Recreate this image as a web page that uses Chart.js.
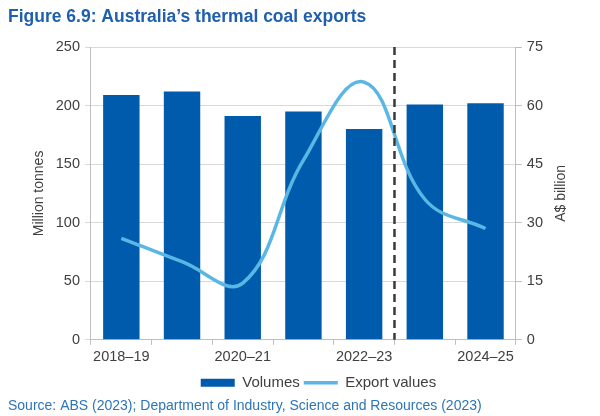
<!DOCTYPE html>
<html>
<head>
<meta charset="utf-8">
<script src="https://cdn.jsdelivr.net/npm/chart.js@4.4.1/dist/chart.umd.min.js"></script>
<style>
  body { margin: 0; background: #fff; }
  #wrap { width: 600px; height: 416px; }
</style>
</head>
<body>
<div id="wrap"><canvas id="myChart"></canvas></div>
<script>
//Chart data
const years = ["2018–19", "2019–20", "2020–21", "2021–22", "2022–23", "2023–24", "2024–25"];
const volumes = [209, 212, 191, 195, 180, 201, 202];
const exportValues = [26, 20, 14.5, 46, 66, 36, 28.5];
const lastActualIndex = 4; // dashed line sits after 2022–23
const leftTicks = [0, 50, 100, 150, 200, 250];
const rightTicks = [0, 15, 30, 45, 60, 75];

const font = "'Liberation Sans', Arial, sans-serif";
const textGrey = "#404040";

//dashed divider between actuals and forecasts
const dividerPlugin = {
  id: "divider",
  afterDatasetsDraw(chart) {
    const x = chart.scales.x.getPixelForValue(lastActualIndex + 0.5);
    const area = chart.chartArea;
    const ctx = chart.ctx;
    ctx.save();
    ctx.strokeStyle = "#3a3a3a";
    ctx.lineWidth = 2.5;
    ctx.setLineDash([8, 5]);
    ctx.beginPath();
    ctx.moveTo(x, area.top);
    ctx.lineTo(x, area.bottom);
    ctx.stroke();
    ctx.restore();
  },
};

//right axis title reads bottom-to-top, and legend sits a bit right of centre
const extrasPlugin = {
  id: "extras",
  afterLayout(chart) {
    const lg = chart.legend;
    const shift = (chart.chartArea.left + chart.chartArea.right) / 2 + 15 - (lg.left + lg.right) / 2;
    lg.left += shift;
    lg.right += shift;
    lg.top += 3;
    lg.bottom += 3;
  },
  afterDraw(chart) {
    const ax = chart.scales.y1;
    const area = chart.chartArea;
    const ctx = chart.ctx;
    ctx.save();
    ctx.translate(ax.right + 13, (area.top + area.bottom) / 2);
    ctx.rotate(-Math.PI / 2);
    ctx.textAlign = "center";
    ctx.textBaseline = "middle";
    ctx.fillStyle = textGrey;
    ctx.font = "14px " + font;
    ctx.fillText("A$ billion", 0, 0);
    ctx.restore();
  },
};

var ctx = document.getElementById("myChart").getContext("2d");
var chart = new Chart(ctx, {
  type: "bar",
  data: {
    labels: years,
    datasets: [
      {
        label: "Volumes",
        data: volumes,
        backgroundColor: "#005BAC",
        borderWidth: 0,
        yAxisID: "y",
        order: 1,
        pointStyle: "rect",
        categoryPercentage: 1,
        barPercentage: 0.6,
      },
      {
        type: "line",
        label: "Export values",
        data: exportValues,
        borderColor: "#5AB6E2",
        backgroundColor: "#5AB6E2",
        borderWidth: 3.5,
        pointRadius: 0,
        pointStyle: "line",
        tension: 0.4,
        yAxisID: "y1",
        order: 0,
      },
    ],
  },
  options: {
    responsive: true,
    maintainAspectRatio: false,
    animation: false,
    layout: { padding: { left: 8, right: 52, top: 0, bottom: 0 } },
    plugins: {
      tooltip: { enabled: false },
      title: {
        display: true,
        text: "Figure 6.9: Australia’s thermal coal exports",
        align: "start",
        color: "#1F5FAF",
        font: { family: font, size: 17.5, weight: "bold" },
        padding: { top: 7, bottom: 19 },
      },
      subtitle: {
        display: true,
        position: "bottom",
        align: "start",
        text: "Source: ABS (2023); Department of Industry, Science and Resources (2023)",
        color: "#2E75B6",
        font: { family: font, size: 14 },
        padding: { top: 1, bottom: 1 },
      },
      legend: {
        position: "bottom",
        labels: {
          usePointStyle: true,
          pointStyleWidth: 34,
          boxHeight: 8,
          padding: 4,
          color: textGrey,
          font: { family: font, size: 15 },
          sort: (a, b) => a.datasetIndex - b.datasetIndex,
        },
      },
    },
    scales: {
      x: {
        grid: {
          offset: true,
          drawOnChartArea: false,
          tickLength: 5,
          color: "#bfbfbf",
        },
        border: { color: "#bfbfbf" },
        ticks: {
          autoSkip: false,
          maxRotation: 0,
          padding: 3,
          color: textGrey,
          font: { family: font, size: 14.5 },
          callback: (val, i) => (i % 2 === 0 ? years[i] : ""),
        },
      },
      y: {
        position: "left",
        min: 0,
        max: 250,
        afterBuildTicks: (axis) => {
          axis.ticks = leftTicks.map((v) => ({ value: v }));
        },
        grid: { color: "#d9d9d9", tickLength: 6 },
        border: { color: "#bfbfbf" },
        ticks: {
          padding: 5,
          color: textGrey,
          font: { family: font, size: 14.5 },
        },
        title: {
          display: true,
          text: "Million tonnes",
          color: textGrey,
          font: { family: font, size: 14 },
          padding: { top: 23, bottom: 3 },
        },
      },
      y1: {
        position: "right",
        min: 0,
        max: 75,
        afterBuildTicks: (axis) => {
          axis.ticks = rightTicks.map((v) => ({ value: v }));
        },
        grid: { drawOnChartArea: false, color: "#bfbfbf", tickLength: 6 },
        border: { color: "#bfbfbf" },
        ticks: {
          padding: 5,
          color: textGrey,
          font: { family: font, size: 14.5 },
        },
      },
    },
  },
  plugins: [dividerPlugin, extrasPlugin],
});
</script>
</body>
</html>
